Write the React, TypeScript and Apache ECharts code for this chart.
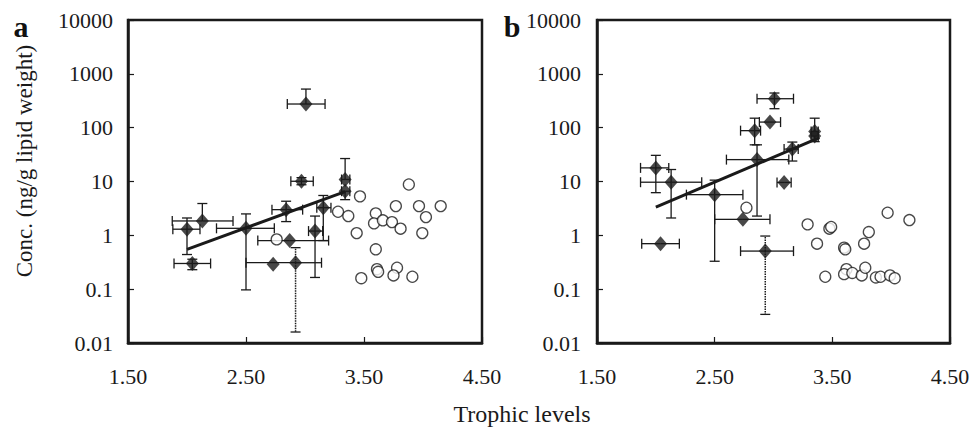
import React, { useEffect, useRef } from "react";
import * as echarts from "echarts";

// [x, y, xLo, xHi, yLo, yHi, dottedVertical]
type Pt = [number, number, number | null, number | null, number | null, number | null, boolean?];

const xTicks = [1.5, 2.5, 3.5, 4.5];
const yTickLabels = ["0.01", "0.1", "1", "10", "100", "1000", "10000"];

const aFilled: Pt[] = [
  [2.0, 1.3, 1.88, 2.11, 0.44, 2.1],
  [2.13, 1.85, 1.875, 2.39, null, 3.9],
  [2.045, 0.3, 1.89, 2.2, 0.23, 0.36],
  [2.5, 1.35, 2.25, 2.74, 0.097, 2.5],
  [2.73, 0.29, null, null, null, null],
  [2.92, 0.31, 2.5, 3.14, 0.016, 0.59, true],
  [2.84, 3.0, 2.72, 2.98, 1.8, 4.3],
  [2.87, 0.8, 2.6, 3.2, null, null],
  [2.97, 10.1, 2.88, 3.07, 8.7, 11.8],
  [3.008, 275, 2.85, 3.17, null, 521],
  [3.085, 1.2, 3.03, 3.15, 0.165, 2.28],
  [3.155, 3.26, 3.1, 3.22, 0.8, 5.5],
  [3.34, 10.9, 3.31, 3.38, null, 26.7],
  [3.34, 6.6, 3.31, 3.38, 4.6, null],
];

const aOpen: [number, number][] = [
  [2.76, 0.84], [3.466, 5.3], [3.28, 2.74], [3.367, 2.28], [3.438, 1.1],
  [3.6, 2.56], [3.585, 1.67], [3.66, 1.9], [3.737, 1.76], [3.81, 1.33],
  [3.77, 3.49], [3.88, 8.8], [3.966, 3.49], [4.025, 2.18], [4.15, 3.49],
  [3.994, 1.1], [3.6, 0.55], [3.61, 0.235], [3.62, 0.21], [3.78, 0.25],
  [3.75, 0.18], [3.91, 0.17], [3.477, 0.16],
];

const aTrend: [number, number][] = [[2.0, 0.55], [3.34, 6.5]];

const bFilled: Pt[] = [
  [2.0, 17.9, 1.87, 2.11, 6.2, 30.6],
  [2.13, 9.7, 1.87, 2.39, 2.1, 16.7],
  [2.04, 0.7, 1.88, 2.2, null, null],
  [2.5, 5.7, 2.26, 2.74, 0.33, 10.6],
  [2.74, 1.98, 2.5, 2.97, null, null],
  [2.86, 25.5, 2.6, 3.13, 2.28, 48],
  [2.84, 88, 2.72, 2.89, 48, 150],
  [2.97, 127, 2.88, 3.06, null, null],
  [3.008, 345, 2.86, 3.17, 225, 440],
  [2.93, 0.51, 2.72, 3.17, 0.034, 0.97, true],
  [3.16, 40, 3.09, 3.21, 24, 54],
  [3.09, 9.6, 3.03, 3.15, null, null],
  [3.35, 85, 3.32, 3.38, null, 150],
  [3.35, 70, 3.32, 3.38, 55, null],
];

const bOpen: [number, number][] = [
  [2.77, 3.26], [3.29, 1.6], [3.475, 1.33], [3.49, 1.43], [3.37, 0.7],
  [3.6, 0.59], [3.61, 0.55], [3.81, 1.15], [3.77, 0.7], [3.97, 2.63],
  [4.155, 1.92], [3.44, 0.17], [3.62, 0.235], [3.6, 0.19], [3.67, 0.2],
  [3.75, 0.18], [3.78, 0.25], [3.87, 0.165], [3.91, 0.17], [3.99, 0.18],
  [4.03, 0.16],
];

const bTrend: [number, number][] = [[2.0, 3.35], [3.39, 65]];

const FONT = "'Liberation Serif', 'DejaVu Serif', serif";
const INK = "#1a1a1a";

function errorRenderer(src: Pt[]) {
  return (params: any, api: any) => {
    const d = src[params.dataIndex];
    const [x, y, xLo, xHi, yLo, yHi, dot] = d;
    const c = api.coord([x, y]);
    const solid = { stroke: INK, lineWidth: 1.3 };
    const vStyle = dot ? { stroke: INK, lineWidth: 1.5, lineDash: [1.5, 1] } : solid;
    const cap = 5;
    const children: any[] = [];
    const ln = (x1: number, y1: number, x2: number, y2: number, style: any) =>
      children.push({ type: "line", shape: { x1, y1, x2, y2 }, style });
    if (xLo != null) {
      const p = api.coord([xLo, y]);
      ln(p[0], c[1], c[0], c[1], solid);
      ln(p[0], c[1] - cap, p[0], c[1] + cap, solid);
    }
    if (xHi != null) {
      const p = api.coord([xHi, y]);
      ln(c[0], c[1], p[0], c[1], solid);
      ln(p[0], c[1] - cap, p[0], c[1] + cap, solid);
    }
    if (yLo != null) {
      const p = api.coord([x, yLo]);
      ln(c[0], c[1], c[0], p[1], vStyle);
      ln(c[0] - cap, p[1], c[0] + cap, p[1], solid);
    }
    if (yHi != null) {
      const p = api.coord([x, yHi]);
      ln(c[0], c[1], c[0], p[1], vStyle);
      ln(c[0] - cap, p[1], c[0] + cap, p[1], solid);
    }
    return { type: "group", children };
  };
}

const grids = [
  { left: 128, top: 20, width: 354, height: 323 },
  { left: 597, top: 20, width: 353, height: 323 },
];

function panelSeries(idx: number, filled: Pt[], open: [number, number][], trend: [number, number][]) {
  return [
    {
      type: "custom",
      xAxisIndex: idx,
      yAxisIndex: idx,
      renderItem: errorRenderer(filled),
      data: filled.map((d) => [d[0], d[1]]),
      encode: { x: 0, y: 1 },
      z: 1,
      silent: true,
    },
    {
      type: "scatter",
      xAxisIndex: idx,
      yAxisIndex: idx,
      data: open,
      symbol: "circle",
      symbolSize: 11,
      itemStyle: { color: "#fff", borderColor: INK, borderWidth: 1.3 },
      z: 2,
    },
    {
      type: "line",
      xAxisIndex: idx,
      yAxisIndex: idx,
      data: trend,
      symbol: "none",
      lineStyle: { color: INK, width: 3 },
      z: 3,
    },
    {
      type: "scatter",
      xAxisIndex: idx,
      yAxisIndex: idx,
      data: filled.map((d) => [d[0], d[1]]),
      symbol: "diamond",
      symbolSize: [13, 15],
      itemStyle: { color: INK },
      z: 4,
    },
  ];
}

export default function App() {
  const ref = useRef<HTMLDivElement>(null);
  useEffect(() => {
    if (!ref.current) return;
    const chart = echarts.init(ref.current, undefined, { renderer: "svg" });
    const xAxis = grids.map((_, i) => ({
      gridIndex: i,
      type: "value",
      min: xTicks[0],
      max: xTicks[xTicks.length - 1],
      interval: 1,
      axisLine: { show: true, onZero: false, lineStyle: { color: INK, width: 2.5 } },
      axisTick: { show: true, inside: true, length: 6, lineStyle: { color: INK, width: 1.2 } },
      axisLabel: {
        formatter: (v: number) => v.toFixed(2),
        margin: 22,
        fontSize: 22,
        fontFamily: FONT,
        color: "#1a1a1a",
        showMinLabel: true,
        showMaxLabel: true,
      },
      splitLine: { show: false },
    }));
    const yAxis = grids.map((_, i) => ({
      gridIndex: i,
      type: "log",
      logBase: 10,
      min: 0.01,
      max: 10000,
      axisLine: { show: true, lineStyle: { color: INK, width: 2.5 } },
      axisTick: { show: true, inside: true, length: 6, lineStyle: { color: INK, width: 1.2 } },
      axisLabel: {
        formatter: (v: number) => {
          const e = Math.round(Math.log10(v));
          return yTickLabels[e + 2] ?? "";
        },
        margin: i === 0 ? 15 : 16,
        fontSize: 22,
        fontFamily: FONT,
        color: "#1a1a1a",
        padding: [5, 0, 0, 0],
        showMinLabel: true,
        showMaxLabel: true,
      },
      splitLine: { show: false },
      minorTick: { show: false },
    }));
    chart.setOption({
      animation: false,
      backgroundColor: "#fff",
      grid: grids.map((g) => ({ ...g, show: true, borderColor: INK, borderWidth: 2.5, containLabel: false })),
      xAxis,
      yAxis,
      series: [
        ...panelSeries(0, aFilled, aOpen, aTrend),
        ...panelSeries(1, bFilled, bOpen, bTrend),
      ],
      graphic: [
        {
          type: "text",
          x: 21,
          y: 26,
          style: { text: "a", font: `bold 30px ${FONT}`, fill: "#111", align: "center", verticalAlign: "middle" },
        },
        {
          type: "text",
          x: 512,
          y: 26,
          style: { text: "b", font: `bold 30px ${FONT}`, fill: "#111", align: "center", verticalAlign: "middle" },
        },
        {
          type: "text",
          x: 24,
          y: 161,
          rotation: Math.PI / 2,
          style: {
            text: "Conc. (ng/g lipid weight)",
            font: `23px ${FONT}`,
            fill: "#1a1a1a",
            align: "center",
            verticalAlign: "middle",
          },
        },
        {
          type: "text",
          x: 522,
          y: 414,
          style: {
            text: "Trophic levels",
            font: `24px ${FONT}`,
            fill: "#1a1a1a",
            align: "center",
            verticalAlign: "middle",
          },
        },
      ],
    });
    return () => chart.dispose();
  }, []);
  return (
    <div
      ref={ref}
      style={{ position: "fixed", left: 0, top: 0, width: 973, height: 429, background: "#fff" }}
    />
  );
}
